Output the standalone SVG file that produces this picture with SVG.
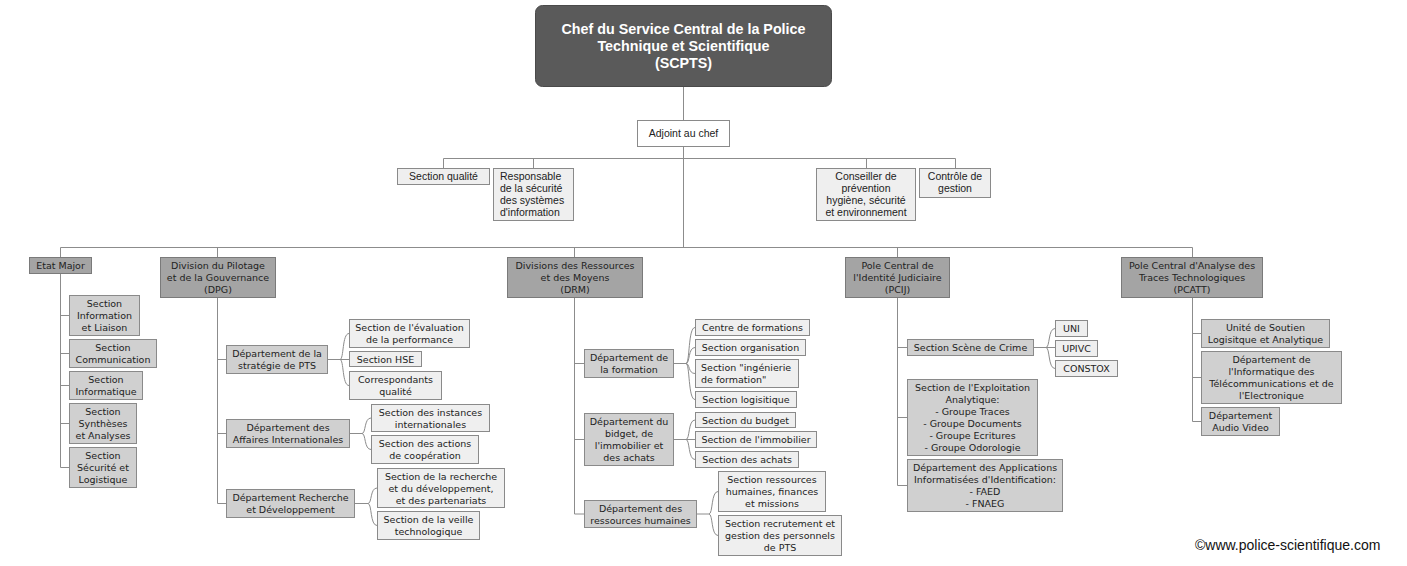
<svg xmlns="http://www.w3.org/2000/svg" width="1407" height="566" viewBox="0 0 1407 566">
<style>
.c path{fill:none;stroke:#8c8c8c;stroke-width:1}
text{font-family:"DejaVu Sans",Verdana,sans-serif;font-size:9.5px;fill:#222;text-anchor:middle}
.root rect{fill:#5a5a5a;stroke:#4a4a4a}
.root text{font-family:"Liberation Sans",Arial,sans-serif;font-weight:bold;font-size:14.3px;fill:#fff}
.top rect{fill:#efefef;stroke:#8a8a8a}
.top text{font-family:"Liberation Sans",Arial,sans-serif;font-size:10.5px}
.adj rect{fill:#fff;stroke:#8a8a8a}
.adj text{font-family:"Liberation Sans",Arial,sans-serif;font-size:10.5px}
.l2 rect{fill:#a4a4a4;stroke:#7a7a7a}
.mid rect{fill:#d0d0d0;stroke:#8a8a8a}
.leaf rect{fill:#efefef;stroke:#8a8a8a}
.lft{text-anchor:start}
.copy{font-family:"Liberation Sans",Arial,sans-serif;font-size:14px;fill:#111;text-anchor:start}
</style>
<rect width="1407" height="566" fill="#fff"/>
<g class="c" id="connectors">
<path d="M683.5,86V120M683.5,146V247.5M443.5,158.5H955.5M443.5,158.5V168M533.5,158.5V168M866.5,158.5V168M955.5,158.5V168"/>
<path d="M60.5,247.5H1192.5M60.5,247.5V257M217.5,247.5V257M574.5,247.5V257M897.5,247.5V257M1192.5,247.5V257"/>
<path d="M60.5,273V467.5M60.5,315.5H69M60.5,353.5H69M60.5,385.5H69M60.5,423.5H69M60.5,467.5H69"/>
<path d="M217.5,297V503.5M217.5,359.5H226M217.5,433.5H226M217.5,503.5H226"/>
<path d="M574.5,297V514M574.5,363.5H584M574.5,439.5H584M574.5,514H584"/>
<path d="M897.5,297V485.5M897.5,347.5H907M897.5,417.5H907M897.5,485.5H907"/>
<path d="M1192.5,297V421.5M1192.5,333.5H1201M1192.5,377.5H1201M1192.5,421.5H1201"/>
<path d="M327,359.5H340M340,359.5C344,359.5 342,333.5 349,333.5M340,359.5H349M340,359.5C344,359.5 342,385.5 349,385.5"/>
<path d="M349,433.5H362M362,433.5C366,433.5 364,418 371,418M362,433.5C366,433.5 364,449.5 371,449.5"/>
<path d="M354,503.5H368M368,503.5C372,503.5 370,488 377,488M368,503.5C372,503.5 370,525.5 377,525.5"/>
<path d="M673,363.5H686M686,363.5C690,363.5 688,327.5 695,327.5M686,363.5C690,363.5 688,347.5 695,347.5M686,363.5C690,363.5 688,373.5 695,373.5M686,363.5C690,363.5 688,399.5 695,399.5"/>
<path d="M673,439.5H695M686,439.5C690,439.5 688,420 695,420M686,439.5C690,439.5 688,459.5 695,459.5"/>
<path d="M696,514H709M709,514C713,514 711,491.5 718,491.5M709,514C713,514 711,535.5 718,535.5"/>
<path d="M1033,347.5H1046M1046,347.5C1050,347.5 1048,328.5 1055,328.5M1046,347.5H1055M1046,347.5C1050,347.5 1048,368.5 1055,368.5"/>
</g>
<g id="root" class="root"><rect x="535.5" y="5.5" width="296" height="81" rx="7"/><text x="683.5" y="34">Chef du Service Central de la Police</text><text x="683.5" y="51">Technique et Scientifique</text><text x="683.5" y="68">(SCPTS)</text></g>
<g id="adjoint" class="adj"><rect x="637.5" y="120.5" width="92" height="26"/><text x="683.5" y="137">Adjoint au chef</text></g>
<g id="section-qualite" class="top"><rect x="397.5" y="168.5" width="92" height="16"/><text x="443.5" y="180">Section qualité</text></g>
<g id="responsable-ssi" class="top"><rect x="493.5" y="168.5" width="80" height="52"/><text class="lft" x="500" y="179.5">Responsable</text><text class="lft" x="500" y="191.5">de la sécurité</text><text class="lft" x="500" y="203.5">des systèmes</text><text class="lft" x="500" y="215.5">d'information</text></g>
<g id="conseiller" class="top"><rect x="816.5" y="168.5" width="99" height="52"/><text x="866" y="179.5">Conseiller de</text><text x="866" y="191.5">prévention</text><text x="866" y="203.5">hygiène, sécurité</text><text x="866" y="215.5">et environnement</text></g>
<g id="controle-gestion" class="top"><rect x="919.5" y="168.5" width="71" height="29"/><text x="955" y="179.5">Contrôle de</text><text x="955" y="191.5">gestion</text></g>
<g id="etat-major" class="l2"><rect x="29.5" y="257.5" width="62" height="16"/><text x="60.5" y="269">Etat Major</text></g>
<g id="dpg" class="l2"><rect x="160.5" y="257.5" width="115" height="40"/><text x="218" y="268.5">Division du Pilotage</text><text x="218" y="280.5">et de la Gouvernance</text><text x="218" y="292.5">(DPG)</text></g>
<g id="drm" class="l2"><rect x="507.5" y="257.5" width="135" height="40"/><text x="575" y="268.5">Divisions des Ressources</text><text x="575" y="280.5">et des Moyens</text><text x="575" y="292.5">(DRM)</text></g>
<g id="pcij" class="l2"><rect x="845.5" y="257.5" width="104" height="40"/><text x="897.5" y="268.5">Pole Central de</text><text x="897.5" y="280.5">l'Identité Judiciaire</text><text x="897.5" y="292.5">(PCIJ)</text></g>
<g id="pcatt" class="l2"><rect x="1121.5" y="257.5" width="141" height="40"/><text x="1192" y="268.5">Pole Central d'Analyse des</text><text x="1192" y="280.5">Traces Technologiques</text><text x="1192" y="292.5">(PCATT)</text></g>
<g id="em-sil" class="mid"><rect x="69.5" y="295.5" width="70" height="40"/><text x="104.5" y="306.5">Section</text><text x="104.5" y="318.5">Information</text><text x="104.5" y="330.5">et Liaison</text></g>
<g id="em-sc" class="mid"><rect x="69.5" y="339.5" width="87" height="28"/><text x="113" y="350.5">Section</text><text x="113" y="362.5">Communication</text></g>
<g id="em-si" class="mid"><rect x="69.5" y="371.5" width="73" height="28"/><text x="106" y="382.5">Section</text><text x="106" y="394.5">Informatique</text></g>
<g id="em-ssa" class="mid"><rect x="69.5" y="403.5" width="67" height="40"/><text x="103" y="414.5">Section</text><text x="103" y="426.5">Synthèses</text><text x="103" y="438.5">et Analyses</text></g>
<g id="em-ssl" class="mid"><rect x="69.5" y="447.5" width="67" height="40"/><text x="103" y="458.5">Section</text><text x="103" y="470.5">Sécurité et</text><text x="103" y="482.5">Logistique</text></g>
<g id="dpg-ds" class="mid"><rect x="226.5" y="345.5" width="101" height="28"/><text x="277" y="357">Département de la</text><text x="277" y="369">stratégie de PTS</text></g>
<g id="dpg-dai" class="mid"><rect x="226.5" y="419.5" width="123" height="28"/><text x="288" y="431">Département des</text><text x="288" y="443">Affaires Internationales</text></g>
<g id="dpg-drd" class="mid"><rect x="226.5" y="489.5" width="128" height="28"/><text x="290.5" y="501">Département Recherche</text><text x="290.5" y="513">et Développement</text></g>
<g id="ds-eval" class="leaf"><rect x="349.5" y="319.5" width="120" height="28"/><text x="409.5" y="331">Section de l'évaluation</text><text x="409.5" y="343">de la performance</text></g>
<g id="ds-hse" class="leaf"><rect x="349.5" y="351.5" width="72" height="15"/><text x="385.5" y="362.5">Section HSE</text></g>
<g id="ds-qual" class="leaf"><rect x="349.5" y="371.5" width="92" height="28"/><text x="395.5" y="383">Correspondants</text><text x="395.5" y="395">qualité</text></g>
<g id="dai-inst" class="leaf"><rect x="371.5" y="404.5" width="118" height="27"/><text x="430.5" y="415.5">Section des instances</text><text x="430.5" y="427.5">internationales</text></g>
<g id="dai-coop" class="leaf"><rect x="371.5" y="435.5" width="107" height="28"/><text x="425" y="447">Section des actions</text><text x="425" y="459">de coopération</text></g>
<g id="drd-rech" class="leaf"><rect x="377.5" y="468.5" width="127" height="39"/><text x="441" y="479.5">Section de la recherche</text><text x="441" y="491.5">et du développement,</text><text x="441" y="503.5">et des partenariats</text></g>
<g id="drd-veille" class="leaf"><rect x="377.5" y="511.5" width="102" height="28"/><text x="428.5" y="523">Section de la veille</text><text x="428.5" y="535">technologique</text></g>
<g id="drm-df" class="mid"><rect x="584.5" y="349.5" width="89" height="28"/><text x="629" y="361">Département de</text><text x="629" y="373">la formation</text></g>
<g id="drm-db" class="mid"><rect x="584.5" y="413.5" width="89" height="52"/><text x="629" y="425">Département du</text><text x="629" y="437">bidget, de</text><text x="629" y="449">l'immobilier et</text><text x="629" y="461">des achats</text></g>
<g id="drm-drh" class="mid"><rect x="584.5" y="500.5" width="112" height="27"/><text x="640.5" y="511.5">Département des</text><text x="640.5" y="523.5">ressources humaines</text></g>
<g id="df-centre" class="leaf"><rect x="695.5" y="319.5" width="114" height="16"/><text x="752.5" y="331">Centre de formations</text></g>
<g id="df-org" class="leaf"><rect x="695.5" y="339.5" width="110" height="16"/><text x="750.5" y="351">Section organisation</text></g>
<g id="df-ing" class="leaf"><rect x="695.5" y="359.5" width="103" height="28"/><text class="lft" x="701" y="371">Section "ingénierie</text><text class="lft" x="701" y="383">de formation"</text></g>
<g id="df-log" class="leaf"><rect x="695.5" y="391.5" width="101" height="16"/><text x="746" y="403">Section logisitique</text></g>
<g id="db-budget" class="leaf"><rect x="695.5" y="412.5" width="100" height="15"/><text x="745.5" y="423.5">Section du budget</text></g>
<g id="db-immo" class="leaf"><rect x="695.5" y="431.5" width="121" height="16"/><text x="756" y="443">Section de l'immobilier</text></g>
<g id="db-achats" class="leaf"><rect x="695.5" y="451.5" width="103" height="16"/><text x="747" y="463">Section des achats</text></g>
<g id="drh-rh" class="leaf"><rect x="718.5" y="471.5" width="107" height="40"/><text x="772" y="483">Section ressources</text><text x="772" y="495">humaines, finances</text><text x="772" y="507">et missions</text></g>
<g id="drh-recr" class="leaf"><rect x="718.5" y="515.5" width="123" height="40"/><text x="780" y="527">Section recrutement et</text><text x="780" y="539">gestion des personnels</text><text x="780" y="551">de PTS</text></g>
<g id="pcij-ssc" class="mid"><rect x="907.5" y="339.5" width="126" height="16"/><text x="970.5" y="351">Section Scène de Crime</text></g>
<g id="pcij-sea" class="mid"><rect x="907.5" y="379.5" width="130" height="76"/><text x="972.5" y="391">Section de l'Exploitation</text><text x="972.5" y="403">Analytique:</text><text x="972.5" y="415">- Groupe Traces</text><text x="972.5" y="427">- Groupe Documents</text><text x="972.5" y="439">- Groupe Ecritures</text><text x="972.5" y="451">- Groupe Odorologie</text></g>
<g id="pcij-daii" class="mid"><rect x="907.5" y="459.5" width="155" height="52"/><text x="985" y="471">Département des Applications</text><text x="985" y="483">Informatisées d'Identification:</text><text x="985" y="495">- FAED</text><text x="985" y="507">- FNAEG</text></g>
<g id="ssc-uni" class="leaf"><rect x="1055.5" y="320.5" width="32" height="16"/><text x="1071.5" y="332">UNI</text></g>
<g id="ssc-upivc" class="leaf"><rect x="1055.5" y="340.5" width="42" height="16"/><text x="1076.5" y="352">UPIVC</text></g>
<g id="ssc-constox" class="leaf"><rect x="1055.5" y="360.5" width="62" height="16"/><text x="1086.5" y="372">CONSTOX</text></g>
<g id="pcatt-usla" class="mid"><rect x="1201.5" y="319.5" width="128" height="28"/><text x="1265.5" y="331">Unité de Soutien</text><text x="1265.5" y="343">Logisitque et Analytique</text></g>
<g id="pcatt-dite" class="mid"><rect x="1201.5" y="351.5" width="140" height="52"/><text x="1271.5" y="363">Département de</text><text x="1271.5" y="375">l'Informatique des</text><text x="1271.5" y="387">Télécommunications et de</text><text x="1271.5" y="399">l'Electronique</text></g>
<g id="pcatt-dav" class="mid"><rect x="1201.5" y="407.5" width="78" height="28"/><text x="1240.5" y="419">Département</text><text x="1240.5" y="431">Audio Video</text></g>
<text class="copy" x="1195" y="550">©www.police-scientifique.com</text>
</svg>
